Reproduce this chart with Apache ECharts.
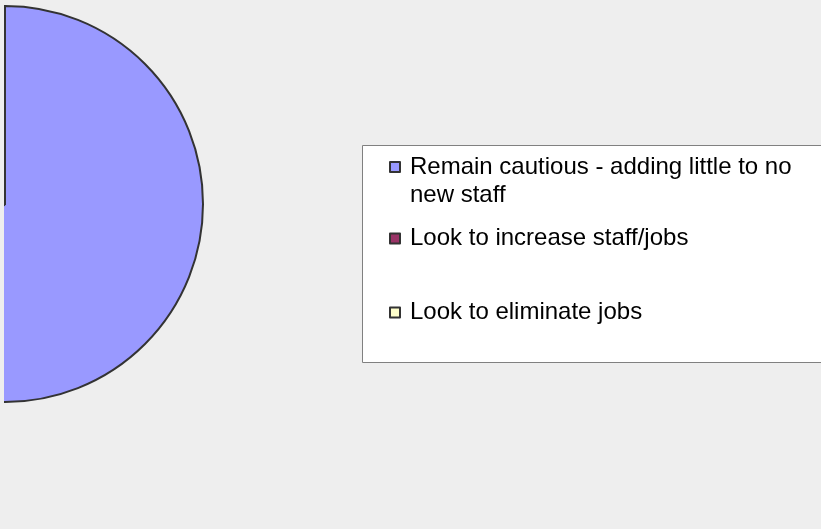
<!DOCTYPE html>
<html>
<head>
<meta charset="utf-8">
<script src="https://cdn.jsdelivr.net/npm/echarts@6/dist/echarts.min.js"></script>
<style>
  html, body { margin: 0; padding: 0; background: #eeeeee; }
  #chart { width: 821px; height: 529px; }
</style>
</head>
<body>
<div id="chart"></div>
<script>
// Hiring outlook survey responses
const categories = [
  'Remain cautious - adding little to no new staff',
  'Look to increase staff/jobs',
  'Look to eliminate jobs'
];
const shares = [63, 24, 13];
const sliceColors = ['#9999ff', '#993366', '#ffffcc'];

const BG = '#eeeeee';
const FONT = 'Liberation Sans, Arial, sans-serif';

const chart = echarts.init(document.getElementById('chart'), null, { renderer: 'canvas' });

// square swatch followed by an empty point, so the label starts a little further right
const SWATCH = 'path://M0,0h10v10h-10zM15,10';

// one legend block per entry so each row can sit at its own height
const legendTops = [125, 224.5, 298.5];
const legends = categories.map((name, i) => ({
  data: [name],
  orient: 'vertical',
  left: 389,
  top: legendTops[i],
  padding: 0,
  icon: SWATCH,
  itemWidth: 15,
  itemHeight: 10,
  selectedMode: false,
  // the first entry wraps onto two lines; a leading empty line keeps
  // its first line level with the swatch
  formatter: i === 0 ? '\n{name}' : '{name}',
  textStyle: {
    fontFamily: FONT,
    fontSize: 24,
    color: '#000',
    lineHeight: 28,
    width: 400,
    overflow: 'break'
  }
}));

chart.setOption({
  animation: false,
  backgroundColor: BG,
  color: sliceColors,
  legend: legends,
  graphic: [
    {
      type: 'rect',
      z: -1,
      silent: true,
      shape: { x: 362.5, y: 145.5, width: 480, height: 217 },
      style: { fill: '#ffffff', stroke: '#808080', lineWidth: 1 }
    },
    {
      // plot area edge on the left
      type: 'rect',
      z: 100,
      silent: true,
      shape: { x: 0, y: 0, width: 4, height: 529 },
      style: { fill: BG }
    }
  ],
  series: [{
    type: 'pie',
    center: [5, 204],
    radius: 198,
    startAngle: 90,
    clockwise: true,
    silent: true,
    label: { show: false },
    labelLine: { show: false },
    itemStyle: { borderColor: '#333333', borderWidth: 2 },
    emphasis: { disabled: true },
    data: categories.map((name, i) => ({ name, value: shares[i] }))
  }]
});
</script>
</body>
</html>
